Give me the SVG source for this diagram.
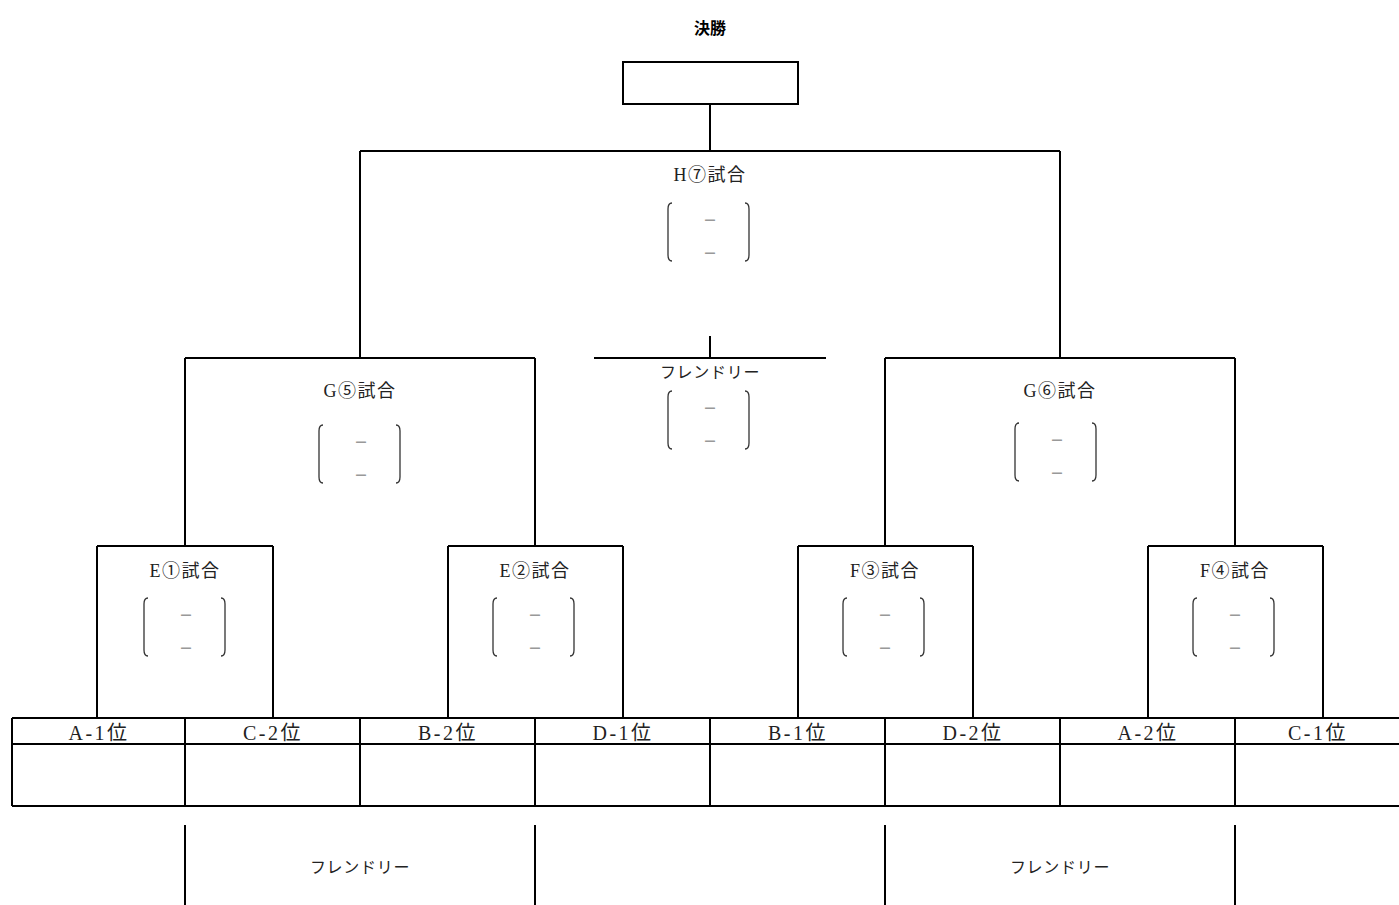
<svg xmlns="http://www.w3.org/2000/svg" width="1399" height="905" viewBox="0 0 1399 905">
<style>
.ln{stroke:#000;stroke-width:2;fill:none}
.br{stroke:#333;stroke-width:1.3;fill:none}
.t{font-family:"Liberation Serif","Noto Sans CJK JP",serif;font-size:18px;letter-spacing:1.5px;fill:#222;text-anchor:middle}
.f{font-family:"Liberation Serif","Noto Sans CJK JP",serif;font-size:16px;letter-spacing:0.7px;fill:#222;text-anchor:middle}
.tt{font-family:"Liberation Serif","Noto Sans CJK JP",serif;font-size:20px;letter-spacing:2.5px;fill:#222;text-anchor:middle}
.ttl{font-family:"Liberation Sans","Noto Sans CJK JP",sans-serif;font-size:16px;font-weight:bold;fill:#000;text-anchor:middle}
.d{font-family:"Noto Sans CJK JP",sans-serif;font-size:14px;font-weight:bold;fill:#999;text-anchor:middle}
</style>
<defs>
<g id="score">
<path class="br" d="M-37,0 Q-41,0 -41,6 L-41,52 Q-41,58 -37,58"/>
<path class="br" d="M36,0 Q40,0 40,6 L40,52 Q40,58 36,58"/>
<text class="d" x="1" y="22">－</text>
<text class="d" x="1" y="55">－</text>
</g>
</defs>
<rect width="1399" height="905" fill="#fff"/>
<g id="title"><text class="ttl" x="710" y="34">決勝</text></g>
<g id="final"><rect class="ln" x="623" y="62" width="175" height="42"/></g>
<g id="connectors">
<path class="ln" d="M710,104 V151 M360,151 H1060 M360,151 V358 M1060,151 V358"/>
<path class="ln" d="M710,336 V358 M594,358 H826"/>
<path class="ln" d="M185,358 H535 M185,358 V546 M535,358 V546"/>
<path class="ln" d="M885,358 H1235 M885,358 V546 M1235,358 V546"/>
<path class="ln" d="M97,546 H273 M97,546 V718 M273,546 V718"/>
<path class="ln" d="M448,546 H623 M448,546 V718 M623,546 V718"/>
<path class="ln" d="M798,546 H973 M798,546 V718 M973,546 V718"/>
<path class="ln" d="M1148,546 H1323 M1148,546 V718 M1323,546 V718"/>
<path class="ln" d="M185,825 V905 M535,825 V905 M885,825 V905 M1235,825 V905"/>
</g>
<g id="match-h7"><text class="t" x="710" y="181">H⑦試合</text><use href="#score" x="709" y="203"/></g>
<g id="friendly-top"><text class="f" x="710" y="378">フレンドリー</text><use href="#score" x="709" y="391"/></g>
<g id="match-g5"><text class="t" x="360" y="397">G⑤試合</text><use href="#score" x="360" y="425"/></g>
<g id="match-g6"><text class="t" x="1060" y="397">G⑥試合</text><use href="#score" x="1056" y="423"/></g>
<g id="match-e1"><text class="t" x="185" y="577">E①試合</text><use href="#score" x="185" y="598"/></g>
<g id="match-e2"><text class="t" x="535" y="577">E②試合</text><use href="#score" x="534" y="598"/></g>
<g id="match-f3"><text class="t" x="885" y="577">F③試合</text><use href="#score" x="884" y="598"/></g>
<g id="match-f4"><text class="t" x="1235" y="577">F④試合</text><use href="#score" x="1234" y="598"/></g>
<g id="table">
<path class="ln" d="M12,718 H1399 M12,744 H1399 M12,806 H1399 M12,718 V806 M185,718 V806 M360,718 V806 M535,718 V806 M710,718 V806 M885,718 V806 M1060,718 V806 M1235,718 V806"/>
<text class="tt" x="99" y="740">A-1位</text>
<text class="tt" x="273" y="740">C-2位</text>
<text class="tt" x="448" y="740">B-2位</text>
<text class="tt" x="623" y="740">D-1位</text>
<text class="tt" x="798" y="740">B-1位</text>
<text class="tt" x="973" y="740">D-2位</text>
<text class="tt" x="1148" y="740">A-2位</text>
<text class="tt" x="1318" y="740">C-1位</text>
</g>
<g id="friendly-left"><text class="f" x="360" y="873">フレンドリー</text></g>
<g id="friendly-right"><text class="f" x="1060" y="873">フレンドリー</text></g>
</svg>
